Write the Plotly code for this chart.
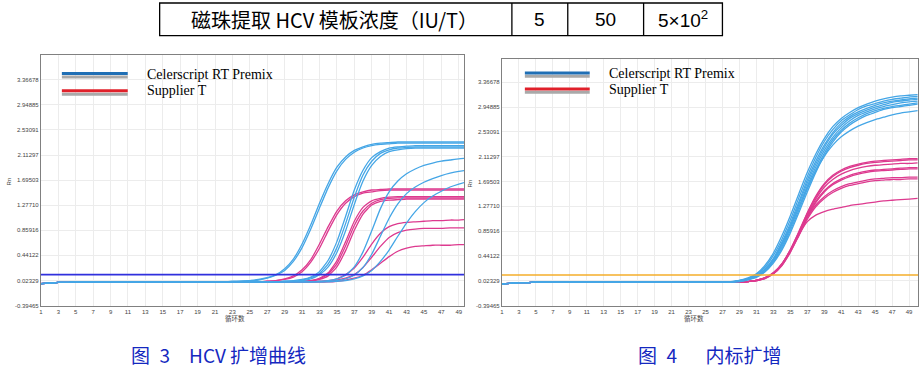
import plotly.graph_objects as go

# ---------------- data ----------------
cycles = [1, 2, 3, 4, 5, 6, 7, 8, 9, 10, 11, 12, 13, 14, 15, 16, 17, 18, 19, 20,
          21, 22, 23, 24, 25, 26, 27, 28, 29, 30, 31, 32, 33, 34, 35, 36, 37, 38, 39, 40,
          41, 42, 43, 44, 45, 46, 47, 48, 49, 50]

x_tick_values = [1, 3, 5, 7, 9, 11, 13, 15, 17, 19, 21, 23, 25, 27, 29, 31, 33, 35, 37, 39,
                 41, 43, 45, 47, 49]
y_tick_values = [-0.39465, 0.02329, 0.44122, 0.85916, 1.27710, 1.69503, 2.11297, 2.53091, 2.94885, 3.36678]
y_tick_text = ["-0.39465", "0.02329", "0.44122", "0.85916", "1.27710", "1.69503", "2.11297", "2.53091", "2.94885", "3.36678"]

# Fig 3 (HCV) - Celerscript RT Premix (blue)
fig3_celer_1 = [-0.03, -0.02, -0.01, -0.01, 0.00, 0.00, 0.00, 0.00, 0.00, 0.00,
                0.00, 0.00, 0.00, 0.00, 0.00, 0.00, 0.00, 0.00, 0.00, 0.00,
                0.00, 0.00, 0.01, 0.01, 0.02, 0.04, 0.07, 0.12, 0.22, 0.38,
                0.63, 0.95, 1.31, 1.64, 1.91, 2.08, 2.19, 2.25, 2.29, 2.31,
                2.32, 2.33, 2.33, 2.33, 2.33, 2.33, 2.33, 2.33, 2.33, 2.33]
fig3_celer_2 = [-0.03, -0.02, -0.01, -0.01, 0.00, 0.00, 0.00, 0.00, 0.00, 0.00,
                0.00, 0.00, 0.00, 0.00, 0.00, 0.00, 0.00, 0.00, 0.00, 0.00,
                0.00, 0.00, 0.00, 0.01, 0.02, 0.03, 0.06, 0.11, 0.19, 0.34,
                0.57, 0.88, 1.23, 1.57, 1.85, 2.04, 2.16, 2.23, 2.27, 2.29,
                2.30, 2.31, 2.31, 2.31, 2.31, 2.31, 2.31, 2.31, 2.31, 2.31]
fig3_celer_3 = [-0.03, -0.02, -0.01, -0.01, 0.00, 0.00, 0.00, 0.00, 0.00, 0.00,
                0.00, 0.00, 0.00, 0.00, 0.00, 0.00, 0.00, 0.00, 0.00, 0.00,
                0.00, 0.00, 0.00, 0.00, 0.00, 0.00, 0.00, 0.00, 0.01, 0.02,
                0.04, 0.08, 0.17, 0.36, 0.67, 1.09, 1.53, 1.86, 2.07, 2.17,
                2.23, 2.25, 2.26, 2.27, 2.27, 2.27, 2.27, 2.27, 2.27, 2.27]
fig3_celer_4 = [-0.03, -0.02, -0.01, -0.01, 0.00, 0.00, 0.00, 0.00, 0.00, 0.00,
                0.00, 0.00, 0.00, 0.00, 0.00, 0.00, 0.00, 0.00, 0.00, 0.00,
                0.00, 0.00, 0.00, 0.00, 0.00, 0.00, 0.00, 0.00, 0.01, 0.01,
                0.03, 0.07, 0.14, 0.30, 0.57, 0.97, 1.41, 1.78, 2.01, 2.14,
                2.20, 2.23, 2.24, 2.25, 2.25, 2.25, 2.25, 2.25, 2.25, 2.25]
fig3_celer_5 = [-0.03, -0.02, -0.01, -0.01, 0.00, 0.00, 0.00, 0.00, 0.00, 0.00,
                0.00, 0.00, 0.00, 0.00, 0.00, 0.00, 0.00, 0.00, 0.00, 0.00,
                0.00, 0.00, 0.00, 0.00, 0.00, 0.00, 0.00, 0.00, 0.00, 0.01,
                0.02, 0.05, 0.12, 0.25, 0.49, 0.85, 1.29, 1.68, 1.94, 2.09,
                2.17, 2.20, 2.22, 2.23, 2.23, 2.23, 2.23, 2.23, 2.23, 2.23]
fig3_celer_6 = [-0.03, -0.02, -0.01, -0.01, 0.00, 0.00, 0.00, 0.00, 0.00, 0.00,
                0.00, 0.00, 0.00, 0.00, 0.00, 0.00, 0.00, 0.00, 0.00, 0.00,
                0.00, 0.00, 0.00, 0.00, 0.00, 0.00, 0.00, 0.00, 0.00, 0.00,
                0.00, 0.00, 0.01, 0.02, 0.05, 0.11, 0.25, 0.50, 0.85, 1.22,
                1.50, 1.68, 1.80, 1.88, 1.94, 1.98, 2.01, 2.03, 2.05, 2.06]
fig3_celer_7 = [-0.03, -0.02, -0.01, -0.01, 0.00, 0.00, 0.00, 0.00, 0.00, 0.00,
                0.00, 0.00, 0.00, 0.00, 0.00, 0.00, 0.00, 0.00, 0.00, 0.00,
                0.00, 0.00, 0.00, 0.00, 0.00, 0.00, 0.00, 0.00, 0.00, 0.00,
                0.00, 0.00, 0.00, 0.01, 0.02, 0.05, 0.11, 0.24, 0.46, 0.76,
                1.06, 1.30, 1.47, 1.58, 1.66, 1.72, 1.77, 1.81, 1.84, 1.86]
fig3_celer_8 = [-0.03, -0.02, -0.01, -0.01, 0.00, 0.00, 0.00, 0.00, 0.00, 0.00,
                0.00, 0.00, 0.00, 0.00, 0.00, 0.00, 0.00, 0.00, 0.00, 0.00,
                0.00, 0.00, 0.00, 0.00, 0.00, 0.00, 0.00, 0.00, 0.00, 0.00,
                0.00, 0.00, 0.00, 0.00, 0.01, 0.02, 0.05, 0.10, 0.19, 0.34,
                0.53, 0.76, 0.98, 1.17, 1.32, 1.43, 1.51, 1.58, 1.63, 1.67]

# Fig 3 (HCV) - Supplier T (magenta)
fig3_supplier_1 = [-0.03, -0.02, -0.01, -0.01, 0.00, 0.00, 0.00, 0.00, 0.00, 0.00,
                   0.00, 0.00, 0.00, 0.00, 0.00, 0.00, 0.00, 0.00, 0.00, 0.00,
                   0.00, 0.00, 0.00, 0.00, 0.00, 0.00, 0.01, 0.02, 0.05, 0.10,
                   0.20, 0.37, 0.63, 0.92, 1.18, 1.35, 1.45, 1.50, 1.53, 1.54,
                   1.55, 1.55, 1.55, 1.55, 1.55, 1.55, 1.55, 1.55, 1.55, 1.55]
fig3_supplier_2 = [-0.03, -0.02, -0.01, -0.01, 0.00, 0.00, 0.00, 0.00, 0.00, 0.00,
                   0.00, 0.00, 0.00, 0.00, 0.00, 0.00, 0.00, 0.00, 0.00, 0.00,
                   0.00, 0.00, 0.00, 0.00, 0.00, 0.00, 0.01, 0.02, 0.04, 0.08,
                   0.17, 0.33, 0.56, 0.85, 1.12, 1.31, 1.42, 1.48, 1.50, 1.52,
                   1.53, 1.53, 1.53, 1.53, 1.53, 1.53, 1.53, 1.53, 1.53, 1.53]
fig3_supplier_3 = [-0.03, -0.02, -0.01, -0.01, 0.00, 0.00, 0.00, 0.00, 0.00, 0.00,
                   0.00, 0.00, 0.00, 0.00, 0.00, 0.00, 0.00, 0.00, 0.00, 0.00,
                   0.00, 0.00, 0.00, 0.00, 0.00, 0.00, 0.00, 0.00, 0.00, 0.00,
                   0.01, 0.02, 0.06, 0.15, 0.35, 0.67, 1.01, 1.24, 1.35, 1.39,
                   1.41, 1.42, 1.42, 1.42, 1.42, 1.42, 1.42, 1.42, 1.42, 1.42]
fig3_supplier_4 = [-0.03, -0.02, -0.01, -0.01, 0.00, 0.00, 0.00, 0.00, 0.00, 0.00,
                   0.00, 0.00, 0.00, 0.00, 0.00, 0.00, 0.00, 0.00, 0.00, 0.00,
                   0.00, 0.00, 0.00, 0.00, 0.00, 0.00, 0.00, 0.00, 0.00, 0.00,
                   0.01, 0.02, 0.05, 0.13, 0.30, 0.60, 0.94, 1.18, 1.31, 1.37,
                   1.39, 1.40, 1.40, 1.40, 1.40, 1.40, 1.40, 1.40, 1.40, 1.40]
fig3_supplier_5 = [-0.03, -0.02, -0.01, -0.01, 0.00, 0.00, 0.00, 0.00, 0.00, 0.00,
                   0.00, 0.00, 0.00, 0.00, 0.00, 0.00, 0.00, 0.00, 0.00, 0.00,
                   0.00, 0.00, 0.00, 0.00, 0.00, 0.00, 0.00, 0.00, 0.00, 0.00,
                   0.00, 0.01, 0.04, 0.10, 0.25, 0.52, 0.86, 1.13, 1.28, 1.34,
                   1.36, 1.37, 1.38, 1.38, 1.38, 1.38, 1.38, 1.38, 1.38, 1.38]
fig3_supplier_6 = [-0.03, -0.02, -0.01, -0.01, 0.00, 0.00, 0.00, 0.00, 0.00, 0.00,
                   0.00, 0.00, 0.00, 0.00, 0.00, 0.00, 0.00, 0.00, 0.00, 0.00,
                   0.00, 0.00, 0.00, 0.00, 0.00, 0.00, 0.00, 0.00, 0.00, 0.00,
                   0.00, 0.00, 0.01, 0.02, 0.05, 0.12, 0.23, 0.41, 0.63, 0.81,
                   0.92, 0.97, 0.99, 1.00, 1.01, 1.02, 1.02, 1.03, 1.03, 1.04]
fig3_supplier_7 = [-0.03, -0.02, -0.01, -0.01, 0.00, 0.00, 0.00, 0.00, 0.00, 0.00,
                   0.00, 0.00, 0.00, 0.00, 0.00, 0.00, 0.00, 0.00, 0.00, 0.00,
                   0.00, 0.00, 0.00, 0.00, 0.00, 0.00, 0.00, 0.00, 0.00, 0.00,
                   0.00, 0.00, 0.00, 0.01, 0.03, 0.06, 0.12, 0.24, 0.41, 0.59,
                   0.74, 0.82, 0.86, 0.88, 0.89, 0.89, 0.89, 0.90, 0.90, 0.90]
fig3_supplier_8 = [-0.03, -0.02, -0.01, -0.01, 0.00, 0.00, 0.00, 0.00, 0.00, 0.00,
                   0.00, 0.00, 0.00, 0.00, 0.00, 0.00, 0.00, 0.00, 0.00, 0.00,
                   0.00, 0.00, 0.00, 0.00, 0.00, 0.00, 0.00, 0.00, 0.00, 0.00,
                   0.00, 0.00, 0.00, 0.00, 0.01, 0.03, 0.06, 0.11, 0.20, 0.31,
                   0.42, 0.51, 0.56, 0.59, 0.60, 0.61, 0.61, 0.61, 0.62, 0.62]

# Fig 4 (internal control) - Celerscript RT Premix (blue)
fig4_celer_1 = [-0.03, -0.02, -0.01, -0.01, 0.00, 0.00, 0.00, 0.00, 0.00, 0.00,
                0.00, 0.00, 0.00, 0.00, 0.00, 0.00, 0.00, 0.00, 0.00, 0.00,
                0.00, 0.00, 0.00, 0.00, 0.00, 0.00, 0.00, 0.01, 0.03, 0.07,
                0.14, 0.28, 0.49, 0.78, 1.12, 1.49, 1.85, 2.16, 2.42, 2.62,
                2.76, 2.86, 2.94, 3.00, 3.05, 3.09, 3.12, 3.14, 3.15, 3.16]
fig4_celer_2 = [-0.03, -0.02, -0.01, -0.01, 0.00, 0.00, 0.00, 0.00, 0.00, 0.00,
                0.00, 0.00, 0.00, 0.00, 0.00, 0.00, 0.00, 0.00, 0.00, 0.00,
                0.00, 0.00, 0.00, 0.00, 0.00, 0.00, 0.00, 0.00, 0.03, 0.06,
                0.13, 0.25, 0.45, 0.72, 1.05, 1.42, 1.78, 2.10, 2.37, 2.57,
                2.72, 2.82, 2.91, 2.97, 3.01, 3.05, 3.08, 3.10, 3.12, 3.13]
fig4_celer_3 = [-0.03, -0.02, -0.01, -0.01, 0.00, 0.00, 0.00, 0.00, 0.00, 0.00,
                0.00, 0.00, 0.00, 0.00, 0.00, 0.00, 0.00, 0.00, 0.00, 0.00,
                0.00, 0.00, 0.00, 0.00, 0.00, 0.00, 0.00, 0.00, 0.02, 0.05,
                0.11, 0.22, 0.40, 0.67, 0.99, 1.35, 1.72, 2.04, 2.31, 2.52,
                2.68, 2.79, 2.87, 2.93, 2.98, 3.02, 3.05, 3.07, 3.09, 3.10]
fig4_celer_4 = [-0.03, -0.02, -0.01, -0.01, 0.00, 0.00, 0.00, 0.00, 0.00, 0.00,
                0.00, 0.00, 0.00, 0.00, 0.00, 0.00, 0.00, 0.00, 0.00, 0.00,
                0.00, 0.00, 0.00, 0.00, 0.00, 0.00, 0.00, 0.00, 0.02, 0.05,
                0.10, 0.21, 0.38, 0.64, 0.95, 1.31, 1.67, 1.99, 2.27, 2.49,
                2.64, 2.76, 2.84, 2.90, 2.95, 2.99, 3.03, 3.05, 3.07, 3.08]
fig4_celer_5 = [-0.03, -0.02, -0.01, -0.01, 0.00, 0.00, 0.00, 0.00, 0.00, 0.00,
                0.00, 0.00, 0.00, 0.00, 0.00, 0.00, 0.00, 0.00, 0.00, 0.00,
                0.00, 0.00, 0.00, 0.00, 0.00, 0.00, 0.00, 0.00, 0.02, 0.04,
                0.10, 0.20, 0.36, 0.60, 0.91, 1.26, 1.62, 1.94, 2.22, 2.44,
                2.60, 2.72, 2.81, 2.87, 2.92, 2.96, 2.99, 3.02, 3.04, 3.05]
fig4_celer_6 = [-0.03, -0.02, -0.01, -0.01, 0.00, 0.00, 0.00, 0.00, 0.00, 0.00,
                0.00, 0.00, 0.00, 0.00, 0.00, 0.00, 0.00, 0.00, 0.00, 0.00,
                0.00, 0.00, 0.00, 0.00, 0.00, 0.00, 0.00, 0.00, 0.01, 0.04,
                0.09, 0.18, 0.34, 0.57, 0.87, 1.21, 1.57, 1.89, 2.17, 2.40,
                2.56, 2.68, 2.77, 2.84, 2.89, 2.93, 2.96, 2.98, 3.00, 3.02]
fig4_celer_7 = [-0.03, -0.02, -0.01, -0.01, 0.00, 0.00, 0.00, 0.00, 0.00, 0.00,
                0.00, 0.00, 0.00, 0.00, 0.00, 0.00, 0.00, 0.00, 0.00, 0.00,
                0.00, 0.00, 0.00, 0.00, 0.00, 0.00, 0.00, 0.00, 0.01, 0.04,
                0.08, 0.17, 0.32, 0.54, 0.83, 1.17, 1.52, 1.85, 2.13, 2.36,
                2.53, 2.65, 2.74, 2.81, 2.86, 2.91, 2.94, 2.96, 2.98, 3.00]
fig4_celer_8 = [-0.03, -0.02, -0.01, -0.01, 0.00, 0.00, 0.00, 0.00, 0.00, 0.00,
                0.00, 0.00, 0.00, 0.00, 0.00, 0.00, 0.00, 0.00, 0.00, 0.00,
                0.00, 0.00, 0.00, 0.00, 0.00, 0.00, 0.00, 0.00, 0.02, 0.05,
                0.10, 0.21, 0.38, 0.63, 0.93, 1.26, 1.59, 1.88, 2.12, 2.31,
                2.45, 2.55, 2.63, 2.69, 2.74, 2.78, 2.82, 2.85, 2.87, 2.89]

# Fig 4 (internal control) - Supplier T (magenta)
fig4_supplier_1 = [-0.03, -0.02, -0.01, -0.01, 0.00, 0.00, 0.00, 0.00, 0.00, 0.00,
                   0.00, 0.00, 0.00, 0.00, 0.00, 0.00, 0.00, 0.00, 0.00, 0.00,
                   0.00, 0.00, 0.00, 0.00, 0.00, 0.00, 0.00, 0.00, 0.00, 0.01,
                   0.03, 0.07, 0.16, 0.31, 0.55, 0.85, 1.17, 1.45, 1.66, 1.80,
                   1.89, 1.95, 1.99, 2.02, 2.04, 2.05, 2.06, 2.07, 2.08, 2.08]
fig4_supplier_2 = [-0.03, -0.02, -0.01, -0.01, 0.00, 0.00, 0.00, 0.00, 0.00, 0.00,
                   0.00, 0.00, 0.00, 0.00, 0.00, 0.00, 0.00, 0.00, 0.00, 0.00,
                   0.00, 0.00, 0.00, 0.00, 0.00, 0.00, 0.00, 0.00, 0.00, 0.01,
                   0.03, 0.07, 0.15, 0.30, 0.54, 0.84, 1.16, 1.43, 1.64, 1.78,
                   1.87, 1.93, 1.97, 2.00, 2.02, 2.03, 2.04, 2.05, 2.06, 2.06]
fig4_supplier_3 = [-0.03, -0.02, -0.01, -0.01, 0.00, 0.00, 0.00, 0.00, 0.00, 0.00,
                   0.00, 0.00, 0.00, 0.00, 0.00, 0.00, 0.00, 0.00, 0.00, 0.00,
                   0.00, 0.00, 0.00, 0.00, 0.00, 0.00, 0.00, 0.00, 0.00, 0.01,
                   0.03, 0.07, 0.15, 0.30, 0.53, 0.82, 1.13, 1.40, 1.60, 1.73,
                   1.82, 1.88, 1.92, 1.95, 1.97, 1.98, 1.99, 2.00, 2.00, 2.01]
fig4_supplier_4 = [-0.03, -0.02, -0.01, -0.01, 0.00, 0.00, 0.00, 0.00, 0.00, 0.00,
                   0.00, 0.00, 0.00, 0.00, 0.00, 0.00, 0.00, 0.00, 0.00, 0.00,
                   0.00, 0.00, 0.00, 0.00, 0.00, 0.00, 0.00, 0.00, 0.00, 0.01,
                   0.03, 0.07, 0.15, 0.30, 0.53, 0.81, 1.11, 1.36, 1.54, 1.66,
                   1.74, 1.80, 1.84, 1.87, 1.89, 1.90, 1.91, 1.92, 1.93, 1.93]
fig4_supplier_5 = [-0.03, -0.02, -0.01, -0.01, 0.00, 0.00, 0.00, 0.00, 0.00, 0.00,
                   0.00, 0.00, 0.00, 0.00, 0.00, 0.00, 0.00, 0.00, 0.00, 0.00,
                   0.00, 0.00, 0.00, 0.00, 0.00, 0.00, 0.00, 0.00, 0.00, 0.01,
                   0.02, 0.06, 0.14, 0.28, 0.51, 0.79, 1.09, 1.34, 1.52, 1.64,
                   1.72, 1.78, 1.82, 1.85, 1.87, 1.88, 1.89, 1.90, 1.91, 1.91]
fig4_supplier_6 = [-0.03, -0.02, -0.01, -0.01, 0.00, 0.00, 0.00, 0.00, 0.00, 0.00,
                   0.00, 0.00, 0.00, 0.00, 0.00, 0.00, 0.00, 0.00, 0.00, 0.00,
                   0.00, 0.00, 0.00, 0.00, 0.00, 0.00, 0.00, 0.00, 0.00, 0.01,
                   0.03, 0.07, 0.15, 0.30, 0.53, 0.81, 1.09, 1.30, 1.44, 1.54,
                   1.61, 1.66, 1.69, 1.72, 1.74, 1.75, 1.76, 1.76, 1.77, 1.77]
fig4_supplier_7 = [-0.03, -0.02, -0.01, -0.01, 0.00, 0.00, 0.00, 0.00, 0.00, 0.00,
                   0.00, 0.00, 0.00, 0.00, 0.00, 0.00, 0.00, 0.00, 0.00, 0.00,
                   0.00, 0.00, 0.00, 0.00, 0.00, 0.00, 0.00, 0.00, 0.00, 0.01,
                   0.02, 0.06, 0.14, 0.28, 0.50, 0.78, 1.06, 1.27, 1.41, 1.51,
                   1.58, 1.63, 1.66, 1.69, 1.71, 1.72, 1.73, 1.73, 1.74, 1.74]
fig4_supplier_8 = [-0.03, -0.02, -0.01, -0.01, 0.00, 0.00, 0.00, 0.00, 0.00, 0.00,
                   0.00, 0.00, 0.00, 0.00, 0.00, 0.00, 0.00, 0.00, 0.00, 0.00,
                   0.00, 0.00, 0.00, 0.00, 0.00, 0.00, 0.00, 0.00, 0.00, 0.01,
                   0.03, 0.07, 0.15, 0.30, 0.53, 0.80, 1.02, 1.13, 1.19, 1.23,
                   1.26, 1.29, 1.31, 1.33, 1.35, 1.37, 1.38, 1.39, 1.40, 1.41]

threshold_fig3 = 0.12
threshold_fig4 = 0.12

legend_names = ["Celerscript RT Premix", "Supplier T"]
table_header = "磁珠提取 HCV 模板浓度（IU/T）"
table_values = ["5", "50", "5×10<sup>2</sup>"]
caption3 = "图\u20023\u2003HCV 扩增曲线"
caption4 = "图\u20024\u2003\u2002内标扩增"
x_title = "循环数"
y_title = "Rn"

# ---------------- styling ----------------
W, H = 922, 374
BLUE = "#45a6e6"
MAGENTA = "#dd3a8f"
CJK = "Noto Sans CJK SC"
SANS = "Liberation Sans, Arial"


def px(x):
    return x / W


def py(y):
    return 1 - y / H


fig3_celer = [fig3_celer_1, fig3_celer_2, fig3_celer_3, fig3_celer_4,
              fig3_celer_5, fig3_celer_6, fig3_celer_7, fig3_celer_8]
fig3_supplier = [fig3_supplier_1, fig3_supplier_2, fig3_supplier_3, fig3_supplier_4,
                 fig3_supplier_5, fig3_supplier_6, fig3_supplier_7, fig3_supplier_8]
fig4_celer = [fig4_celer_1, fig4_celer_2, fig4_celer_3, fig4_celer_4,
              fig4_celer_5, fig4_celer_6, fig4_celer_7, fig4_celer_8]
fig4_supplier = [fig4_supplier_1, fig4_supplier_2, fig4_supplier_3, fig4_supplier_4,
                 fig4_supplier_5, fig4_supplier_6, fig4_supplier_7, fig4_supplier_8]

fig = go.Figure()


def add_curves(series_list, color, xa, ya):
    for s in series_list:
        fig.add_trace(go.Scatter(
            x=cycles, y=s, mode="lines", xaxis=xa, yaxis=ya,
            line=dict(color=color, width=1.3, shape="spline", smoothing=0.5),
            hoverinfo="skip", showlegend=False))


# magenta first, blue drawn on top (as in the reference baseline)
add_curves(fig3_supplier, MAGENTA, "x", "y")
add_curves(fig3_celer, BLUE, "x", "y")
add_curves(fig4_supplier, MAGENTA, "x2", "y2")
add_curves(fig4_celer, BLUE, "x2", "y2")

tickfont = dict(family=SANS, size=6, color="#444444")


def xaxis(domain, rng, anchor):
    return dict(domain=domain, range=rng, anchor=anchor, tickvals=x_tick_values,
                ticktext=[str(v) for v in x_tick_values], showgrid=True,
                gridcolor="#ececec", gridwidth=1, showline=True, linecolor="#808080",
                linewidth=1, mirror=True, ticks="", zeroline=False, tickfont=tickfont,
                fixedrange=True)


def yaxis(domain, rng, anchor):
    return dict(domain=domain, range=rng, anchor=anchor, tickvals=y_tick_values,
                ticktext=y_tick_text, showgrid=True, gridcolor="#ececec", gridwidth=1,
                showline=True, linecolor="#808080", linewidth=1, mirror=True, ticks="",
                zeroline=False, tickfont=tickfont, fixedrange=True)


shapes = []
# threshold lines
shapes.append(dict(type="line", xref="x domain", x0=0, x1=1, yref="y",
                   y0=threshold_fig3, y1=threshold_fig3,
                   line=dict(color="#3030dd", width=1.6), layer="above"))
shapes.append(dict(type="line", xref="x2 domain", x0=0, x1=1, yref="y2",
                   y0=threshold_fig4, y1=threshold_fig4,
                   line=dict(color="#f5ae2a", width=1.6), layer="above"))

# table
shapes.append(dict(type="rect", xref="paper", yref="paper", x0=px(158), x1=px(722),
                   y0=py(36), y1=py(3), line=dict(color="black", width=1.3)))
for xv in (511, 567, 643):
    shapes.append(dict(type="line", xref="paper", yref="paper", x0=px(xv), x1=px(xv),
                       y0=py(36), y1=py(3), line=dict(color="black", width=1.3)))


# legend swatches (colored line above a gray line)
def legend_swatch(x0, x1, y_col, y_gray, color):
    shapes.append(dict(type="line", xref="paper", yref="paper", x0=px(x0), x1=px(x1),
                       y0=py(y_gray), y1=py(y_gray), line=dict(color="#a9a9a9", width=3)))
    shapes.append(dict(type="line", xref="paper", yref="paper", x0=px(x0), x1=px(x1),
                       y0=py(y_col), y1=py(y_col), line=dict(color=color, width=3)))


legend_swatch(60, 126, 74, 77.5, "#1f6fb5")
legend_swatch(60, 126, 91.5, 95, "#e0202a")
legend_swatch(524, 589, 73.5, 76.8, "#1f6fb5")
legend_swatch(524, 589, 89.7, 93, "#e0202a")

annotations = []


def ann(text, x, y, size, color="black", family=CJK, xanchor="center", angle=0):
    annotations.append(dict(text=text, x=px(x), y=py(y), xref="paper", yref="paper",
                            xanchor=xanchor, yanchor="middle", showarrow=False,
                            textangle=angle, font=dict(family=family, size=size, color=color)))


# table text
ann(table_header, 333, 19.5, 20)
ann(table_values[0], 539, 19.5, 19, family=SANS)
ann(table_values[1], 605, 19.5, 19, family=SANS)
ann(table_values[2], 682.5, 19.5, 19, family=SANS)

# legend labels
serif = "Liberation Serif, Times New Roman, serif"
ann(legend_names[0], 143, 75, 14, family=serif, xanchor="left")
ann(legend_names[1], 143, 91.5, 14, family=serif, xanchor="left")
ann(legend_names[0], 606, 74.5, 14, family=serif, xanchor="left")
ann(legend_names[1], 606, 90.5, 14, family=serif, xanchor="left")

# axis titles
ann(y_title, 7, 183, 6, color="#444444", family=SANS, angle=-90)
ann(y_title, 469, 185, 6, color="#444444", family=SANS, angle=-90)
ann(x_title, 234, 321, 6.5, color="#444444")
ann(x_title, 694, 321, 6.5, color="#444444")

# captions
CAP = "#1428c0"
ann(caption3, 127, 357, 19, color=CAP, xanchor="left")
ann(caption4, 635, 357, 19, color=CAP, xanchor="left")

fig.update_layout(
    width=W, height=H, margin=dict(l=0, r=0, t=0, b=0),
    paper_bgcolor="white", plot_bgcolor="white", showlegend=False,
    xaxis=xaxis([px(39), px(463)], [1, 49.6], "y"),
    yaxis=yaxis([py(308), py(55)], [-0.39465, 3.787], "x"),
    xaxis2=xaxis([px(501), px(918)], [1, 50.05], "y2"),
    yaxis2=yaxis([py(308), py(59)], [-0.39465, 3.769], "x2"),
    shapes=shapes, annotations=annotations,
)

fig.write_html("out.html", config={"displayModeBar": False},
               post_script="document.body.style.margin='0px';document.body.style.overflow='hidden';")
